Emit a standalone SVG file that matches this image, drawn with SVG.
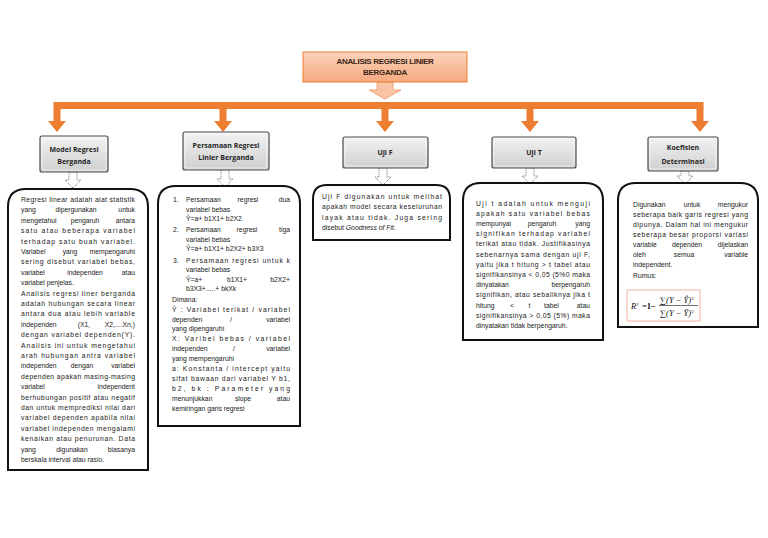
<svg xmlns="http://www.w3.org/2000/svg" width="768" height="538" viewBox="0 0 768 538">
<defs>
<linearGradient id="gTitle" x1="0" y1="0" x2="0" y2="1"><stop offset="0" stop-color="#fbd3ba"/><stop offset="1" stop-color="#f6a97f"/></linearGradient>
<linearGradient id="gHead" x1="0" y1="0" x2="0" y2="1"><stop offset="0" stop-color="#f2f2f2"/><stop offset="1" stop-color="#cfcfcf"/></linearGradient>
<style>
.body{font-family:"Liberation Sans",Arial,sans-serif;font-size:6.8px;fill:#1a1a1a}
.m{text-anchor:middle}
.e{text-anchor:end}
.head{font-family:"Open Sans","Liberation Sans",sans-serif;font-size:7px;font-weight:bold;fill:#262626;text-anchor:middle}
.title{font-family:"Liberation Sans",sans-serif;font-size:8px;font-weight:bold;fill:#3a2415;text-anchor:middle;letter-spacing:-0.3px}
.cbox{fill:#ffffff;stroke:#111;stroke-width:2}
.hbox{fill:url(#gHead);stroke:#4d4d4d;stroke-width:1.2}
.hin{fill:none;stroke:#ffffff;stroke-width:0.8;opacity:0.8}
.org{fill:#ed7d31}
.hollow{fill:#ffffff;stroke:#6b6b6b;stroke-width:0.8;stroke-dasharray:1.2 0.8}
.math{font-family:"Liberation Serif",serif;font-size:8.5px;fill:#111}
</style>
</defs>
<rect width="768" height="538" fill="#ffffff"/>

<g id="connectors">
<path d="M377,82 V90 H369 L385,99 L401,90 H393 V82 Z" fill="#f9c4a5" stroke="#f0955f" stroke-width="0.8"/>
<rect class="org" x="53.5" y="102" width="650" height="7"/>
<path class="org" d="M53.5,108 V121 H48 L57,132 L66,121 H60.5 V108 Z"/>
<path class="org" d="M219.5,108 V121 H214 L223,132 L232,121 H226.5 V108 Z"/>
<path class="org" d="M381.5,108 V121 H376 L385,132 L394,121 H388.5 V108 Z"/>
<path class="org" d="M526.5,108 V121 H521 L530,132 L539,121 H533.5 V108 Z"/>
<path class="org" d="M696.5,108 V121 H691 L700,132 L709,121 H703.5 V108 Z"/>
<path class="hollow" d="M69,172 V180 H65 L73,188 L81,180 H77 V172 Z"/>
<path class="hollow" d="M221,170 V179 H217 L225,187 L233,179 H229 V170 Z"/>
<path class="hollow" d="M379,168 V177 H375 L383,185 L391,177 H387 V168 Z"/>
<path class="hollow" d="M526,168 V176 H522 L530,184 L538,176 H534 V168 Z"/>
<path class="hollow" d="M681,171 V176 H677 L685,184 L693,176 H689 V171 Z"/>
</g>

<g id="title">
<rect x="303" y="52" width="164" height="30" fill="url(#gTitle)" stroke="#ed7d31" stroke-width="1"/>
<text class="title" x="385" y="64">ANALISIS REGRESI LINIER</text>
<text class="title" x="385" y="75">BERGANDA</text>
</g>

<g id="h-model">
<rect class="hbox" x="40" y="136" width="68" height="36" rx="2"/>
<rect class="hin" x="42" y="138" width="64" height="32" rx="1.5"/>
<text class="head" x="74" y="152">Model Regresi</text>
<text class="head" x="74" y="164">Berganda</text>
</g>
<g id="h-persamaan">
<rect class="hbox" x="183" y="132" width="86" height="38" rx="2"/>
<rect class="hin" x="185" y="134" width="82" height="34" rx="1.5"/>
<text class="head" x="226" y="148">Persamaan Regresi</text>
<text class="head" x="226" y="160">Linier Berganda</text>
</g>
<g id="h-ujif">
<rect class="hbox" x="343" y="137" width="85" height="31" rx="2"/>
<rect class="hin" x="345" y="139" width="81" height="27" rx="1.5"/>
<text class="head" x="385" y="155">Uji F</text>
</g>
<g id="h-ujit">
<rect class="hbox" x="492" y="137" width="84" height="31" rx="2"/>
<rect class="hin" x="494" y="139" width="80" height="27" rx="1.5"/>
<text class="head" x="534" y="155">Uji T</text>
</g>
<g id="h-koef">
<rect class="hbox" x="648" y="137" width="70" height="34" rx="2"/>
<rect class="hin" x="650" y="139" width="66" height="30" rx="1.5"/>
<text class="head" x="683" y="150">Koefisien</text>
<text class="head" x="683" y="164">Determinasi</text>
</g>

<g id="c-model">
<path class="cbox" d="M8,470 V207 Q8,189 26,189 H130 Q148,189 148,207 V470 Z"/>
<g class="body">
<text x="21" y="202" textLength="114" lengthAdjust="spacing">Regresi linear adalah alat statistik</text>
<text x="21" y="212.4">yang</text><text class="m" x="76" y="212.4">dipergunakan</text><text class="e" x="135" y="212.4">untuk</text>
<text x="21" y="222.8">mengetahui</text><text class="m" x="85" y="222.8">pengaruh</text><text class="e" x="135" y="222.8">antara</text>
<text x="21" y="233.2" textLength="114" lengthAdjust="spacing">satu atau beberapa variabel</text>
<text x="21" y="243.6" textLength="114" lengthAdjust="spacing">terhadap satu buah variabel.</text>
<text x="21" y="254">Variabel</text><text class="m" x="70" y="254">yang</text><text class="e" x="135" y="254">mempengaruhi</text>
<text x="21" y="264.4" textLength="114" lengthAdjust="spacing">sering disebut variabel bebas,</text>
<text x="21" y="274.8">variabel</text><text class="m" x="85" y="274.8">independen</text><text class="e" x="135" y="274.8">atau</text>
<text x="21" y="285.2">variabel penjelas.</text>
<text x="21" y="295.6" textLength="114" lengthAdjust="spacing">Analisis regresi liner berganda</text>
<text x="21" y="306" textLength="114" lengthAdjust="spacing">adalah hubungan secara linear</text>
<text x="21" y="316.4" textLength="114" lengthAdjust="spacing">antara dua atau lebih variable</text>
<text x="21" y="326.8">independen</text><text class="m" x="84" y="326.8">(X1,</text><text class="e" x="135" y="326.8">X2,....Xn,)</text>
<text x="21" y="337.2" textLength="114" lengthAdjust="spacing">dengan variabel dependen(Y).</text>
<text x="21" y="347.6" textLength="114" lengthAdjust="spacing">Analisis ini untuk mengetahui</text>
<text x="21" y="358" textLength="114" lengthAdjust="spacing">arah hubungan antra variabel</text>
<text x="21" y="368.4">independen</text><text class="m" x="82" y="368.4">dengan</text><text class="e" x="135" y="368.4">variabel</text>
<text x="21" y="378.8" textLength="114" lengthAdjust="spacing">dependen apakah masing-masing</text>
<text x="21" y="389.2">variabel</text><text class="e" x="135" y="389.2">independent</text>
<text x="21" y="399.6" textLength="114" lengthAdjust="spacing">berhubungan positif atau negatif</text>
<text x="21" y="410" textLength="114" lengthAdjust="spacing">dan untuk memprediksi nilai dari</text>
<text x="21" y="420.4" textLength="114" lengthAdjust="spacing">variabel dependen apabila nilai</text>
<text x="21" y="430.8" textLength="114" lengthAdjust="spacing">variabel independen mengalami</text>
<text x="21" y="441.2" textLength="114" lengthAdjust="spacing">kenaikan atau penurunan. Data</text>
<text x="21" y="451.6">yang</text><text class="m" x="72" y="451.6">digunakan</text><text class="e" x="135" y="451.6">biasanya</text>
<text x="21" y="462">berskala interval atau rasio.</text>
</g>
</g>

<g id="c-persamaan">
<path class="cbox" d="M158,426 V204 Q158,186 176,186 H282 Q300,186 300,204 V426 Z"/>
<g class="body">
<text x="173" y="202">1.</text>
<text x="186" y="202">Persamaan</text><text class="m" x="248" y="202">regresi</text><text class="e" x="290" y="202">dua</text>
<text x="186" y="211.5">variabel bebas</text>
<text x="186" y="221">Ŷ=a+ b1X1+ b2X2</text>
<text x="173" y="232">2.</text>
<text x="186" y="232">Persamaan</text><text class="m" x="247" y="232">regresi</text><text class="e" x="290" y="232">tiga</text>
<text x="186" y="241.5">variabel bebas</text>
<text x="186" y="251">Ŷ=a+ b1X1+ b2X2+ b3X3</text>
<text x="173" y="262.5">3.</text>
<text x="186" y="262.5" textLength="104" lengthAdjust="spacing">Persamaan regresi untuk k</text>
<text x="186" y="272">variabel bebas</text>
<text x="186" y="281.5">Ŷ=a+</text><text class="m" x="237" y="281.5">b1X1+</text><text class="e" x="290" y="281.5">b2X2+</text>
<text x="186" y="291">b3X3+.....+ bkXk</text>
<text x="172" y="301.5">Dimana:</text>
<text x="172" y="311.5" textLength="118" lengthAdjust="spacing">Ŷ : Variabel terikat / variabel</text>
<text x="172" y="321.5">dependen</text><text class="m" x="231" y="321.5">/</text><text class="e" x="290" y="321.5">variabel</text>
<text x="172" y="331">yang dipengaruhi</text>
<text x="172" y="341" textLength="118" lengthAdjust="spacing">X: Varibel bebas / variabel</text>
<text x="172" y="351">independen</text><text class="m" x="234" y="351">/</text><text class="e" x="290" y="351">variabel</text>
<text x="172" y="360.5">yang mempengaruhi</text>
<text x="172" y="371" textLength="118" lengthAdjust="spacing">a: Konstanta / intercept yaitu</text>
<text x="172" y="381" textLength="118" lengthAdjust="spacing">sifat bawaan dari variabel Y b1,</text>
<text x="172" y="391" textLength="118" lengthAdjust="spacing">b2, bk : Parameter yang</text>
<text x="172" y="401">menunjukkan</text><text class="m" x="243" y="401">slope</text><text class="e" x="290" y="401">atau</text>
<text x="172" y="411">kemiringan garis regresi</text>
</g>
</g>

<g id="c-ujif">
<path class="cbox" d="M313,240 V199 Q313,185 327,185 H436 Q450,185 450,199 V240 Z"/>
<g class="body">
<text x="322" y="199" textLength="120" lengthAdjust="spacing">Uji F digunakan untuk melihat</text>
<text x="322" y="209" textLength="120" lengthAdjust="spacing">apakah model secara keseluruhan</text>
<text x="322" y="219.5" textLength="120" lengthAdjust="spacing">layak atau tidak. Juga sering</text>
<text x="322" y="229.5">disebut <tspan font-style="italic">Goodness of Fit</tspan>.</text>
</g>
</g>

<g id="c-ujit">
<path class="cbox" d="M463,340 V201 Q463,183 481,183 H585 Q603,183 603,201 V340 Z"/>
<g class="body">
<text x="476" y="205.5" textLength="114" lengthAdjust="spacing">Uji t adalah untuk menguji</text>
<text x="476" y="215.7" textLength="114" lengthAdjust="spacing">apakah satu variabel bebas</text>
<text x="476" y="225.9">mempunyai</text><text class="m" x="542" y="225.9">pengaruh</text><text class="e" x="590" y="225.9">yang</text>
<text x="476" y="236.1" textLength="114" lengthAdjust="spacing">signifikan terhadap variabel</text>
<text x="476" y="246.3" textLength="114" lengthAdjust="spacing">terikat atau tidak. Justifikasinya</text>
<text x="476" y="256.5" textLength="114" lengthAdjust="spacing">sebenarnya sama dengan uji F,</text>
<text x="476" y="266.7" textLength="114" lengthAdjust="spacing">yaitu jika t hitung &gt; t tabel atau</text>
<text x="476" y="276.9" textLength="114" lengthAdjust="spacing">signifikansinya &lt; 0,05 (5%0 maka</text>
<text x="476" y="287.1">dinyatakan</text><text class="e" x="590" y="287.1">berpengaruh</text>
<text x="476" y="297.3" textLength="114" lengthAdjust="spacing">signifikan, atau sebaliknya jika t</text>
<text x="476" y="307.5">hitung</text><text x="510" y="307.5">&lt;</text><text x="528.5" y="307.5">t</text><text x="544" y="307.5">tabel</text><text class="e" x="590" y="307.5">atau</text>
<text x="476" y="317.7" textLength="114" lengthAdjust="spacing">signifikansinya &gt; 0,05 (5%) maka</text>
<text x="476" y="327.9">dinyatakan tidak berpengaruh.</text>
</g>
</g>

<g id="c-koef">
<path class="cbox" d="M618,327 V201 Q618,183 636,183 H740 Q758,183 758,201 V327 Z"/>
<g class="body">
<text x="633" y="207">Digunakan</text><text class="m" x="692" y="207">untuk</text><text class="e" x="748" y="207">mengukur</text>
<text x="633" y="217" textLength="115" lengthAdjust="spacing">seberapa baik garis regresi yang</text>
<text x="633" y="227" textLength="115" lengthAdjust="spacing">dipunya. Dalam hal ini mengukur</text>
<text x="633" y="237" textLength="115" lengthAdjust="spacing">seberapa besar proporsi variasi</text>
<text x="633" y="247">variable</text><text class="m" x="687" y="247">dependen</text><text class="e" x="748" y="247">dijelaskan</text>
<text x="633" y="257">oleh</text><text class="m" x="684" y="257">semua</text><text class="e" x="748" y="257">variable</text>
<text x="633" y="267">independent.</text>
<text x="633" y="277.5">Rumus:</text>
</g>
<rect x="627" y="290" width="73" height="31" fill="#ffffff" stroke="#f2b3a3" stroke-width="1"/>
<text class="math" x="631" y="308.5" font-style="italic">R<tspan font-size="5" dy="-3">2</tspan></text>
<text class="math" x="642" y="308.5" font-weight="bold">=1−</text>
<text class="math" x="660" y="302.5">∑<tspan font-style="italic">(Y − Ŷ)</tspan><tspan font-size="5" dy="-3">2</tspan></text>
<line x1="659" y1="305.5" x2="698" y2="305.5" stroke="#111" stroke-width="0.6"/>
<text class="math" x="660" y="316">∑<tspan font-style="italic">(Y − Ȳ)</tspan><tspan font-size="5" dy="-3">2</tspan></text>
</g>
</svg>
